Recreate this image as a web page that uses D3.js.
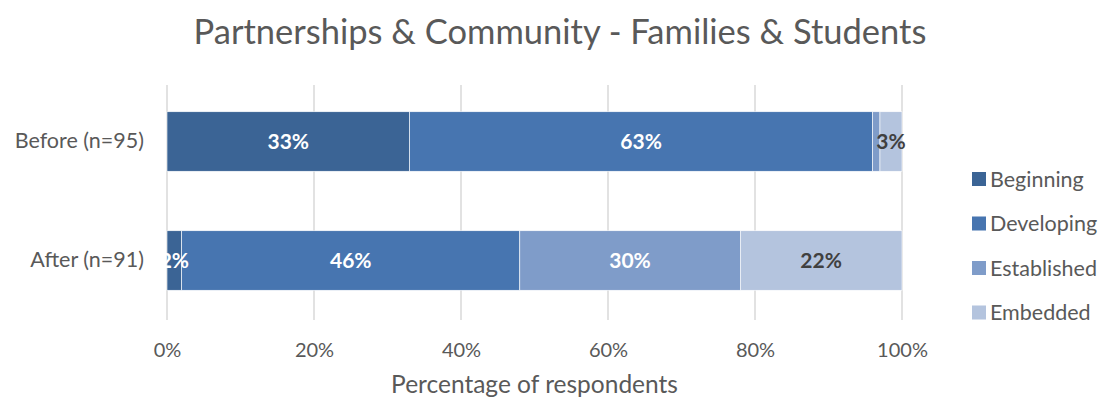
<!DOCTYPE html>
<html>
<head>
<meta charset="utf-8">
<script src="https://cdn.jsdelivr.net/npm/d3@7"></script>
<style>
  body { margin: 0; background: #fff; }
  svg { display: block; font-family: Lato, "Open Sans", sans-serif; }
</style>
</head>
<body>
<svg id="chart" width="1105" height="405"></svg>
<script>
const categories = ["Before (n=95)", "After (n=91)"];
const seriesNames = ["Beginning", "Developing", "Established", "Embedded"];
const beginning   = [33, 2];
const developing  = [63, 46];
const established = [1, 30];
const embedded    = [3, 22];
const showLabel   = [[true, true], [true, true], [false, true], [true, true]];
const tickValues  = [0, 20, 40, 60, 80, 100];
const colors = ["#3b6495", "#4775b0", "#7f9cc9", "#b4c4de"];
const labelColors = ["#ffffff", "#ffffff", "#ffffff", "#404040"];

const svg = d3.select("#chart");
const margin = { left: 167, right: 203, top: 82, bottom: 85 };
const W = 1105, H = 405;
const font = "Lato, 'Open Sans', sans-serif";

const x = d3.scaleLinear().domain([0, 100]).range([margin.left, W - margin.right]);
const y = d3.scaleBand().domain(categories).range([margin.top, H - margin.bottom]).paddingInner(0.5).paddingOuter(0.25);

const rows = categories.map((c, i) => ({
  cat: c,
  Beginning: beginning[i], Developing: developing[i],
  Established: established[i], Embedded: embedded[i]
}));
const stacked = d3.stack().keys(seriesNames)(rows);

// gridlines
svg.append("g").selectAll("line").data(tickValues).join("line")
  .attr("x1", d => x(d)).attr("x2", d => x(d))
  .attr("y1", margin.top + 3).attr("y2", H - margin.bottom)
  .attr("stroke", "#d9d9d9").attr("stroke-width", 1.5);

// bars
const groups = svg.append("g").selectAll("g").data(stacked).join("g")
  .attr("fill", (d, i) => colors[i]);
groups.selectAll("rect").data(d => d).join("rect")
  .attr("x", d => x(d[0]))
  .attr("width", d => x(d[1]) - x(d[0]))
  .attr("y", d => y(d.data.cat))
  .attr("height", y.bandwidth())
  .attr("stroke", "#ffffff").attr("stroke-width", 0.6);

// value labels
stacked.forEach((s, si) => {
  svg.append("g").selectAll("text").data(s.filter((d, i) => showLabel[si][i])).join("text")
    .attr("x", d => x((d[0] + d[1]) / 2))
    .attr("y", d => y(d.data.cat) + y.bandwidth() / 2)
    .attr("dy", "0.35em")
    .attr("text-anchor", "middle")
    .attr("font-size", 21).attr("font-weight", "bold")
    .attr("fill", labelColors[si])
    .text(d => Math.round(d[1] - d[0]) + "%");
});

// x axis
const xAxis = svg.append("g")
  .attr("transform", `translate(0,${H - margin.bottom + 20})`)
  .call(d3.axisBottom(x).tickValues(tickValues).tickFormat(d => d + "%").tickSize(0));
xAxis.select(".domain").remove();
xAxis.selectAll("text").attr("font-size", 20).attr("fill", "#595959")
  .attr("font-family", font);

// y axis
const yAxis = svg.append("g")
  .attr("transform", `translate(${margin.left - 20},0)`)
  .call(d3.axisLeft(y).tickSize(0));
yAxis.select(".domain").remove();
yAxis.selectAll("text").attr("font-size", 21.5).attr("fill", "#595959")
  .attr("font-family", font);

// title
svg.append("text").attr("x", 560).attr("y", 44).attr("text-anchor", "middle")
  .attr("font-size", 34.5).attr("fill", "#595959")
  .text("Partnerships & Community - Families & Students");

// axis title
svg.append("text").attr("x", x(50)).attr("y", 393).attr("text-anchor", "middle")
  .attr("font-size", 24.5).attr("fill", "#595959")
  .text("Percentage of respondents");

// legend
const legend = svg.append("g").selectAll("g").data(seriesNames).join("g")
  .attr("transform", (d, i) => `translate(972,${179 + i * 44.5})`);
legend.append("rect").attr("x", 0).attr("y", -7).attr("width", 14).attr("height", 14)
  .attr("fill", (d, i) => colors[i]);
legend.append("text").attr("x", 18).attr("dy", "0.35em")
  .attr("font-size", 21.5).attr("fill", "#595959").text(d => d);
</script>
</body>
</html>
